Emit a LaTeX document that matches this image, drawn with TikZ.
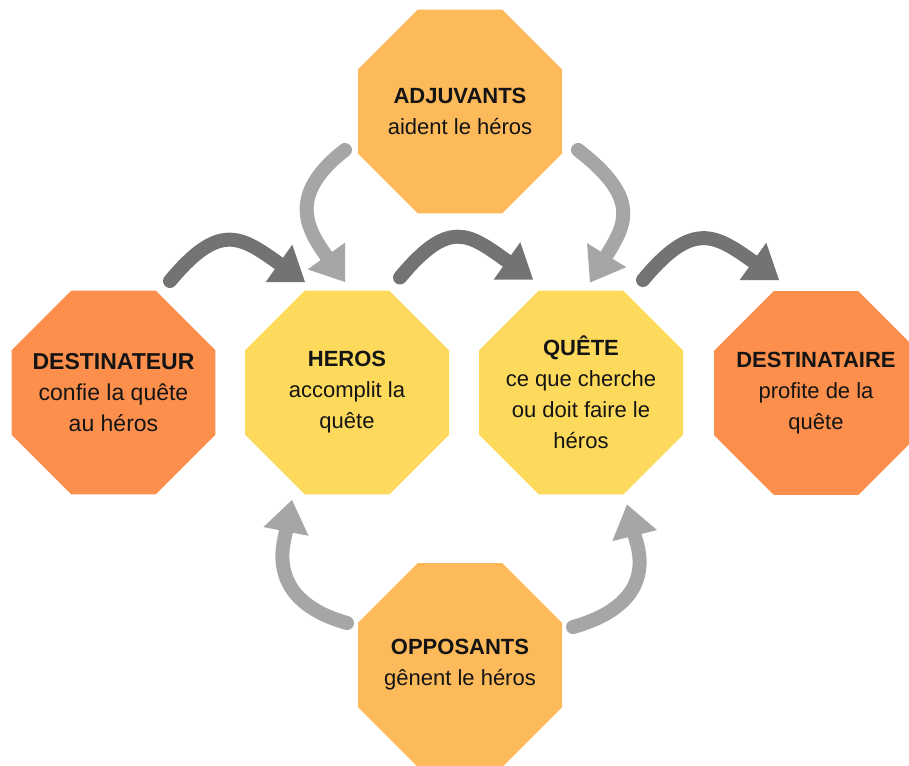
\documentclass[tikz,border=0pt]{standalone}
\usepackage{fontspec}
\setmainfont{Liberation Sans}
\usetikzlibrary{shapes.geometric,arrows.meta,calc}
\definecolor{cyel}{HTML}{FDDA5B}
\definecolor{clor}{HTML}{FDBA5B}
\definecolor{cor}{HTML}{FD8F4C}
\definecolor{cdark}{HTML}{737373}
\definecolor{clight}{HTML}{A6A6A6}
\definecolor{ctext}{HTML}{141414}
\begin{document}
\begin{tikzpicture}[x=1pt,y=-1pt,
  octa/.style={regular polygon, regular polygon sides=8, minimum size=220.8pt,
    inner sep=0pt, outer sep=0pt, draw=none},
  lbl/.style={align=center, text=ctext, font=\fontsize{22}{31}\selectfont, inner sep=0pt},
  lblbig/.style={lbl, font=\fontsize{23}{31}\selectfont},
  arrowbase/.style={line width=14pt, line cap=round,
    -{Triangle[width=46pt,length=32pt,line width=0pt]}},
  darkarrow/.style={arrowbase, draw=cdark},
  lightarrow/.style={arrowbase, draw=clight}]
\useasboundingbox (0,0) rectangle (909,765);
\clip (0,0) rectangle (909,765);

% octagons
\node[octa, fill=clor] (adj)   at (460,111.5) {};
\node[octa, fill=cor]  (dest)  at (113.5,392.5) {};
\node[octa, fill=cyel] (heros) at (347,392.5) {};
\node[octa, fill=cyel] (quete) at (581,392.5) {};
\node[octa, fill=cor]  (desti) at (816,393) {};
\node[octa, fill=clor] (opp)   at (460,665) {};

% labels
\node[lbl] (adjt)   at (adj.center)   {\textbf{ADJUVANTS}\\aident le héros};
\node[lblbig] (destt)  at (dest.center)  {\textbf{DESTINATEUR}\\confie la quête\\au héros};
\node[lbl] (herost) at (heros.center) {\textbf{HEROS}\\accomplit la\\quête};
\node[lbl] (quetet) at (quete.center) {\textbf{QUÊTE}\\ce que cherche\\ou doit faire le\\héros};
\node[lbl] (destit) at (desti.center) {\textbf{DESTINATAIRE}\\profite de la\\quête};
\node[lbl] (oppt)   at (opp.center)   {\textbf{OPPOSANTS}\\gênent le héros};

% dark arrows (top row)
\draw[darkarrow] ($(dest.center)+(56.5,-111.5)$)
  .. controls +(49.5,-59.6) and +(-64.2,-45.7) .. ($(heros.center)+(-42,-110.5)$);
\draw[darkarrow] ($(heros.center)+(53,-115)$)
  .. controls +(49.5,-59.6) and +(-64.2,-45.7) .. ($(quete.center)+(-48,-113)$);
\draw[darkarrow] ($(quete.center)+(62,-112.5)$)
  .. controls +(49.5,-59.6) and +(-64.2,-45.7) .. ($(desti.center)+(-37,-113)$);

% light arrows from ADJUVANTS
\draw[lightarrow] ($(adj.center)+(-115,38.5)$)
  .. controls +(-58.1,44.9) and +(-37.9,-52.9) .. ($(heros.center)+(-2,-110.5)$);
\draw[lightarrow] ($(adj.center)+(118,38.5)$)
  .. controls +(63.1,48.7) and +(35.5,-58.1) .. ($(quete.center)+(9,-110)$);

% light arrows from OPPOSANTS
\draw[lightarrow] ($(opp.center)+(-113,-42)$)
  .. controls +(-82.2,-23.1) and +(-8.5,44) .. ($(heros.center)+(-55,107.5)$);
\draw[lightarrow] ($(opp.center)+(113,-38)$)
  .. controls +(88.6,-24.9) and +(10.1,40.9) .. ($(quete.center)+(46,112)$);
\end{tikzpicture}
\end{document}
